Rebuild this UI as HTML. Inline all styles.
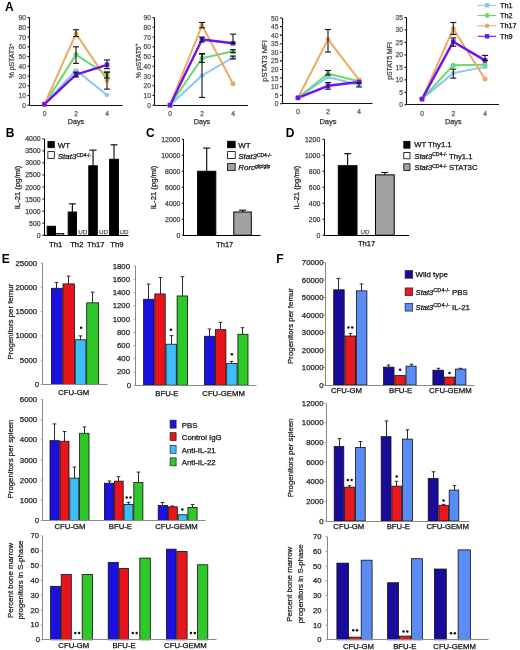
<!DOCTYPE html>
<html><head><meta charset="utf-8"><style>
html,body{margin:0;padding:0;background:#fff;}
body{width:520px;height:650px;overflow:hidden;font-family:"Liberation Sans",sans-serif;}
svg{display:block;will-change:transform;}
</style></head><body>
<svg width="520" height="650" viewBox="0 0 520 650" font-family='"Liberation Sans", sans-serif'>
<rect x="0" y="0" width="520" height="650" fill="#fff"/>
<text x="9.3" y="6.5" font-size="12" text-anchor="middle" fill="#000" dominant-baseline="central" font-weight="bold">A</text>
<text x="10.1" y="133.2" font-size="12" text-anchor="middle" fill="#000" dominant-baseline="central" font-weight="bold">B</text>
<text x="150.3" y="133.2" font-size="12" text-anchor="middle" fill="#000" dominant-baseline="central" font-weight="bold">C</text>
<text x="290.2" y="133.2" font-size="12" text-anchor="middle" fill="#000" dominant-baseline="central" font-weight="bold">D</text>
<text x="5.8" y="258.5" font-size="12" text-anchor="middle" fill="#000" dominant-baseline="central" font-weight="bold">E</text>
<text x="280" y="258.5" font-size="12" text-anchor="middle" fill="#000" dominant-baseline="central" font-weight="bold">F</text>
<line x1="29.5" y1="17.6" x2="29.5" y2="105.2" stroke="#111" stroke-width="1.1"/>
<line x1="27.5" y1="105.2" x2="29.5" y2="105.2" stroke="#111" stroke-width="1.1"/>
<text x="25.9" y="105.2" font-size="6.6" text-anchor="end" fill="#555" dominant-baseline="central" stroke="#555" stroke-width="0.25">0</text>
<line x1="27.5" y1="95.47" x2="29.5" y2="95.47" stroke="#111" stroke-width="1.1"/>
<text x="25.9" y="95.47" font-size="6.6" text-anchor="end" fill="#555" dominant-baseline="central" stroke="#555" stroke-width="0.25">10</text>
<line x1="27.5" y1="85.73" x2="29.5" y2="85.73" stroke="#111" stroke-width="1.1"/>
<text x="25.9" y="85.73" font-size="6.6" text-anchor="end" fill="#555" dominant-baseline="central" stroke="#555" stroke-width="0.25">20</text>
<line x1="27.5" y1="76" x2="29.5" y2="76" stroke="#111" stroke-width="1.1"/>
<text x="25.9" y="76" font-size="6.6" text-anchor="end" fill="#555" dominant-baseline="central" stroke="#555" stroke-width="0.25">30</text>
<line x1="27.5" y1="66.27" x2="29.5" y2="66.27" stroke="#111" stroke-width="1.1"/>
<text x="25.9" y="66.27" font-size="6.6" text-anchor="end" fill="#555" dominant-baseline="central" stroke="#555" stroke-width="0.25">40</text>
<line x1="27.5" y1="56.53" x2="29.5" y2="56.53" stroke="#111" stroke-width="1.1"/>
<text x="25.9" y="56.53" font-size="6.6" text-anchor="end" fill="#555" dominant-baseline="central" stroke="#555" stroke-width="0.25">50</text>
<line x1="27.5" y1="46.8" x2="29.5" y2="46.8" stroke="#111" stroke-width="1.1"/>
<text x="25.9" y="46.8" font-size="6.6" text-anchor="end" fill="#555" dominant-baseline="central" stroke="#555" stroke-width="0.25">60</text>
<line x1="27.5" y1="37.07" x2="29.5" y2="37.07" stroke="#111" stroke-width="1.1"/>
<text x="25.9" y="37.07" font-size="6.6" text-anchor="end" fill="#555" dominant-baseline="central" stroke="#555" stroke-width="0.25">70</text>
<line x1="27.5" y1="27.33" x2="29.5" y2="27.33" stroke="#111" stroke-width="1.1"/>
<text x="25.9" y="27.33" font-size="6.6" text-anchor="end" fill="#555" dominant-baseline="central" stroke="#555" stroke-width="0.25">80</text>
<line x1="27.5" y1="17.6" x2="29.5" y2="17.6" stroke="#111" stroke-width="1.1"/>
<text x="25.9" y="17.6" font-size="6.6" text-anchor="end" fill="#555" dominant-baseline="central" stroke="#555" stroke-width="0.25">90</text>
<line x1="29.5" y1="105.5" x2="122.5" y2="105.5" stroke="#111" stroke-width="1.1"/>
<text x="44.5" y="113.4" font-size="6.6" text-anchor="middle" fill="#555" dominant-baseline="central" stroke="#555" stroke-width="0.25">0</text>
<text x="76" y="113.4" font-size="6.6" text-anchor="middle" fill="#555" dominant-baseline="central" stroke="#555" stroke-width="0.25">2</text>
<text x="107" y="113.4" font-size="6.6" text-anchor="middle" fill="#555" dominant-baseline="central" stroke="#555" stroke-width="0.25">4</text>
<text x="76" y="121.4" font-size="7.2" text-anchor="middle" fill="#333" dominant-baseline="central" stroke="#333" stroke-width="0.25">Days</text>
<text x="11.6" y="61" font-size="6.84" text-anchor="middle" fill="#444" dominant-baseline="central" stroke="#444" stroke-width="0.25" transform="rotate(-90 11.6 61)">% pSTAT3<tspan dy="-2" font-size="4.5">+</tspan></text>
<polyline points="44.5,104.23 76,70.16 107,94.98" fill="none" stroke="#8cc4f2" stroke-width="2" stroke-linejoin="round"/>
<polyline points="44.5,104.23 76,54.59 107,75.03" fill="none" stroke="#66dc70" stroke-width="2" stroke-linejoin="round"/>
<polyline points="44.5,104.23 76,33.66 107,79.89" fill="none" stroke="#eeaa60" stroke-width="2" stroke-linejoin="round"/>
<polyline points="44.5,104.23 76,74.54 107,64.81" fill="none" stroke="#6e14ea" stroke-width="2.4" stroke-linejoin="round"/>
<ellipse cx="44.5" cy="104.23" rx="2.7" ry="2" fill="#8cc4f2"/>
<ellipse cx="76" cy="70.16" rx="2.7" ry="2" fill="#8cc4f2"/>
<ellipse cx="107" cy="94.98" rx="2.7" ry="2" fill="#8cc4f2"/>
<circle cx="44.5" cy="104.23" r="2.5" fill="#66dc70"/>
<circle cx="76" cy="54.59" r="2.5" fill="#66dc70"/>
<circle cx="107" cy="75.03" r="2.5" fill="#66dc70"/>
<circle cx="44.5" cy="104.23" r="2.5" fill="#eeaa60"/>
<circle cx="76" cy="33.66" r="2.5" fill="#eeaa60"/>
<circle cx="107" cy="79.89" r="2.5" fill="#eeaa60"/>
<rect x="42.2" y="101.93" width="4.6" height="4.6" fill="#6e14ea" stroke="none" stroke-width="1"/>
<rect x="73.7" y="72.24" width="4.6" height="4.6" fill="#6e14ea" stroke="none" stroke-width="1"/>
<rect x="104.7" y="62.51" width="4.6" height="4.6" fill="#6e14ea" stroke="none" stroke-width="1"/>
<line x1="76" y1="63.35" x2="76" y2="46.8" stroke="#111" stroke-width="1.1"/>
<line x1="73" y1="46.8" x2="79" y2="46.8" stroke="#111" stroke-width="1.1"/>
<line x1="73" y1="63.35" x2="79" y2="63.35" stroke="#111" stroke-width="1.1"/>
<line x1="107" y1="77.95" x2="107" y2="72.11" stroke="#111" stroke-width="1.1"/>
<line x1="104" y1="72.11" x2="110" y2="72.11" stroke="#111" stroke-width="1.1"/>
<line x1="104" y1="77.95" x2="110" y2="77.95" stroke="#111" stroke-width="1.1"/>
<line x1="76" y1="36.58" x2="76" y2="29.77" stroke="#111" stroke-width="1.1"/>
<line x1="73" y1="29.77" x2="79" y2="29.77" stroke="#111" stroke-width="1.1"/>
<line x1="73" y1="36.58" x2="79" y2="36.58" stroke="#111" stroke-width="1.1"/>
<line x1="107" y1="89.14" x2="107" y2="72.11" stroke="#111" stroke-width="1.1"/>
<line x1="104" y1="72.11" x2="110" y2="72.11" stroke="#111" stroke-width="1.1"/>
<line x1="104" y1="89.14" x2="110" y2="89.14" stroke="#111" stroke-width="1.1"/>
<line x1="76" y1="76.97" x2="76" y2="72.11" stroke="#111" stroke-width="1.1"/>
<line x1="73" y1="72.11" x2="79" y2="72.11" stroke="#111" stroke-width="1.1"/>
<line x1="73" y1="76.97" x2="79" y2="76.97" stroke="#111" stroke-width="1.1"/>
<line x1="107" y1="68.7" x2="107" y2="59.94" stroke="#111" stroke-width="1.1"/>
<line x1="104" y1="59.94" x2="110" y2="59.94" stroke="#111" stroke-width="1.1"/>
<line x1="104" y1="68.7" x2="110" y2="68.7" stroke="#111" stroke-width="1.1"/>
<line x1="154.5" y1="17.6" x2="154.5" y2="105.2" stroke="#111" stroke-width="1.1"/>
<line x1="152.5" y1="105.2" x2="154.5" y2="105.2" stroke="#111" stroke-width="1.1"/>
<text x="150.9" y="105.2" font-size="6.6" text-anchor="end" fill="#555" dominant-baseline="central" stroke="#555" stroke-width="0.25">0</text>
<line x1="152.5" y1="95.47" x2="154.5" y2="95.47" stroke="#111" stroke-width="1.1"/>
<text x="150.9" y="95.47" font-size="6.6" text-anchor="end" fill="#555" dominant-baseline="central" stroke="#555" stroke-width="0.25">10</text>
<line x1="152.5" y1="85.73" x2="154.5" y2="85.73" stroke="#111" stroke-width="1.1"/>
<text x="150.9" y="85.73" font-size="6.6" text-anchor="end" fill="#555" dominant-baseline="central" stroke="#555" stroke-width="0.25">20</text>
<line x1="152.5" y1="76" x2="154.5" y2="76" stroke="#111" stroke-width="1.1"/>
<text x="150.9" y="76" font-size="6.6" text-anchor="end" fill="#555" dominant-baseline="central" stroke="#555" stroke-width="0.25">30</text>
<line x1="152.5" y1="66.27" x2="154.5" y2="66.27" stroke="#111" stroke-width="1.1"/>
<text x="150.9" y="66.27" font-size="6.6" text-anchor="end" fill="#555" dominant-baseline="central" stroke="#555" stroke-width="0.25">40</text>
<line x1="152.5" y1="56.53" x2="154.5" y2="56.53" stroke="#111" stroke-width="1.1"/>
<text x="150.9" y="56.53" font-size="6.6" text-anchor="end" fill="#555" dominant-baseline="central" stroke="#555" stroke-width="0.25">50</text>
<line x1="152.5" y1="46.8" x2="154.5" y2="46.8" stroke="#111" stroke-width="1.1"/>
<text x="150.9" y="46.8" font-size="6.6" text-anchor="end" fill="#555" dominant-baseline="central" stroke="#555" stroke-width="0.25">60</text>
<line x1="152.5" y1="37.07" x2="154.5" y2="37.07" stroke="#111" stroke-width="1.1"/>
<text x="150.9" y="37.07" font-size="6.6" text-anchor="end" fill="#555" dominant-baseline="central" stroke="#555" stroke-width="0.25">70</text>
<line x1="152.5" y1="27.33" x2="154.5" y2="27.33" stroke="#111" stroke-width="1.1"/>
<text x="150.9" y="27.33" font-size="6.6" text-anchor="end" fill="#555" dominant-baseline="central" stroke="#555" stroke-width="0.25">80</text>
<line x1="152.5" y1="17.6" x2="154.5" y2="17.6" stroke="#111" stroke-width="1.1"/>
<text x="150.9" y="17.6" font-size="6.6" text-anchor="end" fill="#555" dominant-baseline="central" stroke="#555" stroke-width="0.25">90</text>
<line x1="154.5" y1="105.5" x2="248" y2="105.5" stroke="#111" stroke-width="1.1"/>
<text x="170" y="113.4" font-size="6.6" text-anchor="middle" fill="#555" dominant-baseline="central" stroke="#555" stroke-width="0.25">0</text>
<text x="202" y="113.4" font-size="6.6" text-anchor="middle" fill="#555" dominant-baseline="central" stroke="#555" stroke-width="0.25">2</text>
<text x="233" y="113.4" font-size="6.6" text-anchor="middle" fill="#555" dominant-baseline="central" stroke="#555" stroke-width="0.25">4</text>
<text x="202" y="121.4" font-size="7.2" text-anchor="middle" fill="#333" dominant-baseline="central" stroke="#333" stroke-width="0.25">Days</text>
<text x="138" y="61" font-size="6.84" text-anchor="middle" fill="#444" dominant-baseline="central" stroke="#444" stroke-width="0.25" transform="rotate(-90 138 61)">% pSTAT5<tspan dy="-2" font-size="4.5">+</tspan></text>
<polyline points="170,105.2 202,75.51 233,57.51" fill="none" stroke="#8cc4f2" stroke-width="2" stroke-linejoin="round"/>
<polyline points="170,105.2 202,58.19 233,51.18" fill="none" stroke="#66dc70" stroke-width="2" stroke-linejoin="round"/>
<polyline points="170,105.2 202,25.39 233,83.79" fill="none" stroke="#eeaa60" stroke-width="2" stroke-linejoin="round"/>
<polyline points="170,105.2 202,39.5 233,43.3" fill="none" stroke="#6e14ea" stroke-width="2.4" stroke-linejoin="round"/>
<ellipse cx="170" cy="105.2" rx="2.7" ry="2" fill="#8cc4f2"/>
<ellipse cx="202" cy="75.51" rx="2.7" ry="2" fill="#8cc4f2"/>
<ellipse cx="233" cy="57.51" rx="2.7" ry="2" fill="#8cc4f2"/>
<circle cx="170" cy="105.2" r="2.5" fill="#66dc70"/>
<circle cx="202" cy="58.19" r="2.5" fill="#66dc70"/>
<circle cx="233" cy="51.18" r="2.5" fill="#66dc70"/>
<circle cx="170" cy="105.2" r="2.5" fill="#eeaa60"/>
<circle cx="202" cy="25.39" r="2.5" fill="#eeaa60"/>
<circle cx="233" cy="83.79" r="2.5" fill="#eeaa60"/>
<rect x="167.7" y="102.9" width="4.6" height="4.6" fill="#6e14ea" stroke="none" stroke-width="1"/>
<rect x="199.7" y="37.2" width="4.6" height="4.6" fill="#6e14ea" stroke="none" stroke-width="1"/>
<rect x="230.7" y="41" width="4.6" height="4.6" fill="#6e14ea" stroke="none" stroke-width="1"/>
<line x1="202" y1="97.41" x2="202" y2="54.1" stroke="#111" stroke-width="1.1"/>
<line x1="199" y1="54.1" x2="205" y2="54.1" stroke="#111" stroke-width="1.1"/>
<line x1="199" y1="97.41" x2="205" y2="97.41" stroke="#111" stroke-width="1.1"/>
<line x1="233" y1="58.97" x2="233" y2="56.05" stroke="#111" stroke-width="1.1"/>
<line x1="230" y1="56.05" x2="236" y2="56.05" stroke="#111" stroke-width="1.1"/>
<line x1="230" y1="58.97" x2="236" y2="58.97" stroke="#111" stroke-width="1.1"/>
<line x1="202" y1="62.37" x2="202" y2="53.61" stroke="#111" stroke-width="1.1"/>
<line x1="199" y1="53.61" x2="205" y2="53.61" stroke="#111" stroke-width="1.1"/>
<line x1="199" y1="62.37" x2="205" y2="62.37" stroke="#111" stroke-width="1.1"/>
<line x1="233" y1="52.64" x2="233" y2="49.72" stroke="#111" stroke-width="1.1"/>
<line x1="230" y1="49.72" x2="236" y2="49.72" stroke="#111" stroke-width="1.1"/>
<line x1="230" y1="52.64" x2="236" y2="52.64" stroke="#111" stroke-width="1.1"/>
<line x1="202" y1="27.82" x2="202" y2="22.47" stroke="#111" stroke-width="1.1"/>
<line x1="199" y1="22.47" x2="205" y2="22.47" stroke="#111" stroke-width="1.1"/>
<line x1="199" y1="27.82" x2="205" y2="27.82" stroke="#111" stroke-width="1.1"/>
<line x1="202" y1="41.93" x2="202" y2="37.07" stroke="#111" stroke-width="1.1"/>
<line x1="199" y1="37.07" x2="205" y2="37.07" stroke="#111" stroke-width="1.1"/>
<line x1="199" y1="41.93" x2="205" y2="41.93" stroke="#111" stroke-width="1.1"/>
<line x1="233" y1="43.3" x2="233" y2="34.15" stroke="#111" stroke-width="1.1"/>
<line x1="230" y1="34.15" x2="236" y2="34.15" stroke="#111" stroke-width="1.1"/>
<line x1="230" y1="43.3" x2="236" y2="43.3" stroke="#111" stroke-width="1.1"/>
<line x1="282.5" y1="18" x2="282.5" y2="103.8" stroke="#111" stroke-width="1.1"/>
<line x1="280" y1="103.8" x2="282" y2="103.8" stroke="#111" stroke-width="1.1"/>
<text x="278.4" y="103.8" font-size="6.6" text-anchor="end" fill="#555" dominant-baseline="central" stroke="#555" stroke-width="0.25">0</text>
<line x1="280" y1="95.22" x2="282" y2="95.22" stroke="#111" stroke-width="1.1"/>
<text x="278.4" y="95.22" font-size="6.6" text-anchor="end" fill="#555" dominant-baseline="central" stroke="#555" stroke-width="0.25">5</text>
<line x1="280" y1="86.64" x2="282" y2="86.64" stroke="#111" stroke-width="1.1"/>
<text x="278.4" y="86.64" font-size="6.6" text-anchor="end" fill="#555" dominant-baseline="central" stroke="#555" stroke-width="0.25">10</text>
<line x1="280" y1="78.06" x2="282" y2="78.06" stroke="#111" stroke-width="1.1"/>
<text x="278.4" y="78.06" font-size="6.6" text-anchor="end" fill="#555" dominant-baseline="central" stroke="#555" stroke-width="0.25">15</text>
<line x1="280" y1="69.48" x2="282" y2="69.48" stroke="#111" stroke-width="1.1"/>
<text x="278.4" y="69.48" font-size="6.6" text-anchor="end" fill="#555" dominant-baseline="central" stroke="#555" stroke-width="0.25">20</text>
<line x1="280" y1="60.9" x2="282" y2="60.9" stroke="#111" stroke-width="1.1"/>
<text x="278.4" y="60.9" font-size="6.6" text-anchor="end" fill="#555" dominant-baseline="central" stroke="#555" stroke-width="0.25">25</text>
<line x1="280" y1="52.32" x2="282" y2="52.32" stroke="#111" stroke-width="1.1"/>
<text x="278.4" y="52.32" font-size="6.6" text-anchor="end" fill="#555" dominant-baseline="central" stroke="#555" stroke-width="0.25">30</text>
<line x1="280" y1="43.74" x2="282" y2="43.74" stroke="#111" stroke-width="1.1"/>
<text x="278.4" y="43.74" font-size="6.6" text-anchor="end" fill="#555" dominant-baseline="central" stroke="#555" stroke-width="0.25">35</text>
<line x1="280" y1="35.16" x2="282" y2="35.16" stroke="#111" stroke-width="1.1"/>
<text x="278.4" y="35.16" font-size="6.6" text-anchor="end" fill="#555" dominant-baseline="central" stroke="#555" stroke-width="0.25">40</text>
<line x1="280" y1="26.58" x2="282" y2="26.58" stroke="#111" stroke-width="1.1"/>
<text x="278.4" y="26.58" font-size="6.6" text-anchor="end" fill="#555" dominant-baseline="central" stroke="#555" stroke-width="0.25">45</text>
<line x1="280" y1="18" x2="282" y2="18" stroke="#111" stroke-width="1.1"/>
<text x="278.4" y="18" font-size="6.6" text-anchor="end" fill="#555" dominant-baseline="central" stroke="#555" stroke-width="0.25">50</text>
<line x1="282" y1="103.5" x2="372.5" y2="103.5" stroke="#111" stroke-width="1.1"/>
<text x="298" y="112" font-size="7.13" text-anchor="middle" fill="#555" dominant-baseline="central" stroke="#555" stroke-width="0.25">0</text>
<text x="328" y="112" font-size="7.13" text-anchor="middle" fill="#555" dominant-baseline="central" stroke="#555" stroke-width="0.25">2</text>
<text x="359" y="112" font-size="7.13" text-anchor="middle" fill="#555" dominant-baseline="central" stroke="#555" stroke-width="0.25">4</text>
<text x="328" y="121.2" font-size="7.56" text-anchor="middle" fill="#333" dominant-baseline="central" stroke="#333" stroke-width="0.25">Days</text>
<text x="264" y="61" font-size="7.52" text-anchor="middle" fill="#444" dominant-baseline="central" stroke="#444" stroke-width="0.25" transform="rotate(-90 264 61)">pSTAT3 MFI</text>
<polyline points="298,97.79 328,77.03 359,84.92" fill="none" stroke="#8cc4f2" stroke-width="2" stroke-linejoin="round"/>
<polyline points="298,97.79 328,73.77 359,81.32" fill="none" stroke="#66dc70" stroke-width="2" stroke-linejoin="round"/>
<polyline points="298,97.79 328,39.45 359,79.95" fill="none" stroke="#eeaa60" stroke-width="2" stroke-linejoin="round"/>
<polyline points="298,97.79 328,85.78 359,82.01" fill="none" stroke="#6e14ea" stroke-width="2.4" stroke-linejoin="round"/>
<ellipse cx="298" cy="97.79" rx="2.7" ry="2" fill="#8cc4f2"/>
<ellipse cx="328" cy="77.03" rx="2.7" ry="2" fill="#8cc4f2"/>
<ellipse cx="359" cy="84.92" rx="2.7" ry="2" fill="#8cc4f2"/>
<circle cx="298" cy="97.79" r="2.5" fill="#66dc70"/>
<circle cx="328" cy="73.77" r="2.5" fill="#66dc70"/>
<circle cx="359" cy="81.32" r="2.5" fill="#66dc70"/>
<circle cx="298" cy="97.79" r="2.5" fill="#eeaa60"/>
<circle cx="328" cy="39.45" r="2.5" fill="#eeaa60"/>
<circle cx="359" cy="79.95" r="2.5" fill="#eeaa60"/>
<rect x="295.7" y="95.49" width="4.6" height="4.6" fill="#6e14ea" stroke="none" stroke-width="1"/>
<rect x="325.7" y="83.48" width="4.6" height="4.6" fill="#6e14ea" stroke="none" stroke-width="1"/>
<rect x="356.7" y="79.71" width="4.6" height="4.6" fill="#6e14ea" stroke="none" stroke-width="1"/>
<line x1="359" y1="86.98" x2="359" y2="82.86" stroke="#111" stroke-width="1.1"/>
<line x1="356" y1="82.86" x2="362" y2="82.86" stroke="#111" stroke-width="1.1"/>
<line x1="356" y1="86.98" x2="362" y2="86.98" stroke="#111" stroke-width="1.1"/>
<line x1="328" y1="74.97" x2="328" y2="70.51" stroke="#111" stroke-width="1.1"/>
<line x1="325" y1="70.51" x2="331" y2="70.51" stroke="#111" stroke-width="1.1"/>
<line x1="325" y1="74.97" x2="331" y2="74.97" stroke="#111" stroke-width="1.1"/>
<line x1="328" y1="51.98" x2="328" y2="29.5" stroke="#111" stroke-width="1.1"/>
<line x1="325" y1="29.5" x2="331" y2="29.5" stroke="#111" stroke-width="1.1"/>
<line x1="325" y1="51.98" x2="331" y2="51.98" stroke="#111" stroke-width="1.1"/>
<line x1="328" y1="89.21" x2="328" y2="82.52" stroke="#111" stroke-width="1.1"/>
<line x1="325" y1="82.52" x2="331" y2="82.52" stroke="#111" stroke-width="1.1"/>
<line x1="325" y1="89.21" x2="331" y2="89.21" stroke="#111" stroke-width="1.1"/>
<line x1="406.5" y1="17.5" x2="406.5" y2="104.8" stroke="#111" stroke-width="1.1"/>
<line x1="404.5" y1="104.8" x2="406.5" y2="104.8" stroke="#111" stroke-width="1.1"/>
<text x="402.9" y="104.8" font-size="6.6" text-anchor="end" fill="#555" dominant-baseline="central" stroke="#555" stroke-width="0.25">0</text>
<line x1="404.5" y1="92.33" x2="406.5" y2="92.33" stroke="#111" stroke-width="1.1"/>
<text x="402.9" y="92.33" font-size="6.6" text-anchor="end" fill="#555" dominant-baseline="central" stroke="#555" stroke-width="0.25">5</text>
<line x1="404.5" y1="79.86" x2="406.5" y2="79.86" stroke="#111" stroke-width="1.1"/>
<text x="402.9" y="79.86" font-size="6.6" text-anchor="end" fill="#555" dominant-baseline="central" stroke="#555" stroke-width="0.25">10</text>
<line x1="404.5" y1="67.39" x2="406.5" y2="67.39" stroke="#111" stroke-width="1.1"/>
<text x="402.9" y="67.39" font-size="6.6" text-anchor="end" fill="#555" dominant-baseline="central" stroke="#555" stroke-width="0.25">15</text>
<line x1="404.5" y1="54.91" x2="406.5" y2="54.91" stroke="#111" stroke-width="1.1"/>
<text x="402.9" y="54.91" font-size="6.6" text-anchor="end" fill="#555" dominant-baseline="central" stroke="#555" stroke-width="0.25">20</text>
<line x1="404.5" y1="42.44" x2="406.5" y2="42.44" stroke="#111" stroke-width="1.1"/>
<text x="402.9" y="42.44" font-size="6.6" text-anchor="end" fill="#555" dominant-baseline="central" stroke="#555" stroke-width="0.25">25</text>
<line x1="404.5" y1="29.97" x2="406.5" y2="29.97" stroke="#111" stroke-width="1.1"/>
<text x="402.9" y="29.97" font-size="6.6" text-anchor="end" fill="#555" dominant-baseline="central" stroke="#555" stroke-width="0.25">30</text>
<line x1="404.5" y1="17.5" x2="406.5" y2="17.5" stroke="#111" stroke-width="1.1"/>
<text x="402.9" y="17.5" font-size="6.6" text-anchor="end" fill="#555" dominant-baseline="central" stroke="#555" stroke-width="0.25">35</text>
<line x1="406.5" y1="104.5" x2="499" y2="104.5" stroke="#111" stroke-width="1.1"/>
<text x="422" y="113" font-size="6.6" text-anchor="middle" fill="#555" dominant-baseline="central" stroke="#555" stroke-width="0.25">0</text>
<text x="453.3" y="113" font-size="6.6" text-anchor="middle" fill="#555" dominant-baseline="central" stroke="#555" stroke-width="0.25">2</text>
<text x="485" y="113" font-size="6.6" text-anchor="middle" fill="#555" dominant-baseline="central" stroke="#555" stroke-width="0.25">4</text>
<text x="453.3" y="121" font-size="7.2" text-anchor="middle" fill="#333" dominant-baseline="central" stroke="#333" stroke-width="0.25">Days</text>
<text x="389.6" y="61" font-size="6.84" text-anchor="middle" fill="#444" dominant-baseline="central" stroke="#444" stroke-width="0.25" transform="rotate(-90 389.6 61)">pSTAT5 MFI</text>
<polyline points="422,99.06 453.3,73.12 485,66.89" fill="none" stroke="#8cc4f2" stroke-width="2" stroke-linejoin="round"/>
<polyline points="422,99.06 453.3,65.14 485,64.64" fill="none" stroke="#66dc70" stroke-width="2" stroke-linejoin="round"/>
<polyline points="422,99.06 453.3,28.72 485,79.11" fill="none" stroke="#eeaa60" stroke-width="2" stroke-linejoin="round"/>
<polyline points="422,99.06 453.3,41.69 485,60.4" fill="none" stroke="#6e14ea" stroke-width="2.4" stroke-linejoin="round"/>
<ellipse cx="422" cy="99.06" rx="2.7" ry="2" fill="#8cc4f2"/>
<ellipse cx="453.3" cy="73.12" rx="2.7" ry="2" fill="#8cc4f2"/>
<ellipse cx="485" cy="66.89" rx="2.7" ry="2" fill="#8cc4f2"/>
<circle cx="422" cy="99.06" r="2.5" fill="#66dc70"/>
<circle cx="453.3" cy="65.14" r="2.5" fill="#66dc70"/>
<circle cx="485" cy="64.64" r="2.5" fill="#66dc70"/>
<circle cx="422" cy="99.06" r="2.5" fill="#eeaa60"/>
<circle cx="453.3" cy="28.72" r="2.5" fill="#eeaa60"/>
<circle cx="485" cy="79.11" r="2.5" fill="#eeaa60"/>
<rect x="419.7" y="96.76" width="4.6" height="4.6" fill="#6e14ea" stroke="none" stroke-width="1"/>
<rect x="451" y="39.39" width="4.6" height="4.6" fill="#6e14ea" stroke="none" stroke-width="1"/>
<rect x="482.7" y="58.1" width="4.6" height="4.6" fill="#6e14ea" stroke="none" stroke-width="1"/>
<line x1="453.3" y1="78.11" x2="453.3" y2="69.13" stroke="#111" stroke-width="1.1"/>
<line x1="450.3" y1="69.13" x2="456.3" y2="69.13" stroke="#111" stroke-width="1.1"/>
<line x1="450.3" y1="78.11" x2="456.3" y2="78.11" stroke="#111" stroke-width="1.1"/>
<line x1="453.3" y1="34.46" x2="453.3" y2="22.49" stroke="#111" stroke-width="1.1"/>
<line x1="450.3" y1="22.49" x2="456.3" y2="22.49" stroke="#111" stroke-width="1.1"/>
<line x1="450.3" y1="34.46" x2="456.3" y2="34.46" stroke="#111" stroke-width="1.1"/>
<line x1="453.3" y1="46.18" x2="453.3" y2="37.95" stroke="#111" stroke-width="1.1"/>
<line x1="450.3" y1="37.95" x2="456.3" y2="37.95" stroke="#111" stroke-width="1.1"/>
<line x1="450.3" y1="46.18" x2="456.3" y2="46.18" stroke="#111" stroke-width="1.1"/>
<line x1="485" y1="60.4" x2="485" y2="55.41" stroke="#111" stroke-width="1.1"/>
<line x1="482" y1="55.41" x2="488" y2="55.41" stroke="#111" stroke-width="1.1"/>
<line x1="482" y1="60.4" x2="488" y2="60.4" stroke="#111" stroke-width="1.1"/>
<line x1="477.7" y1="5.3" x2="496" y2="5.3" stroke="#8cc4f2" stroke-width="1.1"/>
<rect x="484.9" y="3.1" width="4.4" height="4.4" fill="#8cc4f2" stroke="none" stroke-width="1"/>
<text x="500" y="5.3" font-size="7.3" text-anchor="start" fill="#111" dominant-baseline="central" stroke="#111" stroke-width="0.25">Th1</text>
<line x1="477.7" y1="15.5" x2="496" y2="15.5" stroke="#66dc70" stroke-width="1.1"/>
<circle cx="487.1" cy="15.5" r="2.4" fill="#66dc70"/>
<text x="500" y="15.5" font-size="7.3" text-anchor="start" fill="#111" dominant-baseline="central" stroke="#111" stroke-width="0.25">Th2</text>
<line x1="477.7" y1="25.8" x2="496" y2="25.8" stroke="#eeaa60" stroke-width="1.1"/>
<circle cx="487.1" cy="25.8" r="2.4" fill="#eeaa60"/>
<text x="500" y="25.8" font-size="7.3" text-anchor="start" fill="#111" dominant-baseline="central" stroke="#111" stroke-width="0.25">Th17</text>
<line x1="477.7" y1="36.3" x2="496" y2="36.3" stroke="#6e14ea" stroke-width="1.1"/>
<rect x="484.9" y="34.1" width="4.4" height="4.4" fill="#6e14ea" stroke="none" stroke-width="1"/>
<text x="500" y="36.3" font-size="7.3" text-anchor="start" fill="#111" dominant-baseline="central" stroke="#111" stroke-width="0.25">Th9</text>
<line x1="44.5" y1="138.8" x2="44.5" y2="235.2" stroke="#000" stroke-width="1"/>
<line x1="42.4" y1="235.2" x2="44.2" y2="235.2" stroke="#000" stroke-width="1"/>
<text x="40.6" y="235.2" font-size="6.9" text-anchor="end" fill="#444" dominant-baseline="central" stroke="#444" stroke-width="0.25">0</text>
<line x1="42.4" y1="223.15" x2="44.2" y2="223.15" stroke="#000" stroke-width="1"/>
<text x="40.6" y="223.15" font-size="6.9" text-anchor="end" fill="#444" dominant-baseline="central" stroke="#444" stroke-width="0.25">500</text>
<line x1="42.4" y1="211.1" x2="44.2" y2="211.1" stroke="#000" stroke-width="1"/>
<text x="40.6" y="211.1" font-size="6.9" text-anchor="end" fill="#444" dominant-baseline="central" stroke="#444" stroke-width="0.25">1000</text>
<line x1="42.4" y1="199.05" x2="44.2" y2="199.05" stroke="#000" stroke-width="1"/>
<text x="40.6" y="199.05" font-size="6.9" text-anchor="end" fill="#444" dominant-baseline="central" stroke="#444" stroke-width="0.25">1500</text>
<line x1="42.4" y1="187" x2="44.2" y2="187" stroke="#000" stroke-width="1"/>
<text x="40.6" y="187" font-size="6.9" text-anchor="end" fill="#444" dominant-baseline="central" stroke="#444" stroke-width="0.25">2000</text>
<line x1="42.4" y1="174.95" x2="44.2" y2="174.95" stroke="#000" stroke-width="1"/>
<text x="40.6" y="174.95" font-size="6.9" text-anchor="end" fill="#444" dominant-baseline="central" stroke="#444" stroke-width="0.25">2500</text>
<line x1="42.4" y1="162.9" x2="44.2" y2="162.9" stroke="#000" stroke-width="1"/>
<text x="40.6" y="162.9" font-size="6.9" text-anchor="end" fill="#444" dominant-baseline="central" stroke="#444" stroke-width="0.25">3000</text>
<line x1="42.4" y1="150.85" x2="44.2" y2="150.85" stroke="#000" stroke-width="1"/>
<text x="40.6" y="150.85" font-size="6.9" text-anchor="end" fill="#444" dominant-baseline="central" stroke="#444" stroke-width="0.25">3500</text>
<line x1="42.4" y1="138.8" x2="44.2" y2="138.8" stroke="#000" stroke-width="1"/>
<text x="40.6" y="138.8" font-size="6.9" text-anchor="end" fill="#444" dominant-baseline="central" stroke="#444" stroke-width="0.25">4000</text>
<rect x="47.2" y="226.28" width="8.3" height="8.92" fill="#000" stroke="#000" stroke-width="1"/>
<rect x="55.5" y="233.63" width="8.3" height="1.57" fill="#fff" stroke="#000" stroke-width="1"/>
<line x1="72.35" y1="212.06" x2="72.35" y2="203.87" stroke="#000" stroke-width="1.1"/>
<line x1="68.85" y1="203.87" x2="75.85" y2="203.87" stroke="#000" stroke-width="1.1"/>
<rect x="68.2" y="212.06" width="8.3" height="23.14" fill="#000" stroke="#000" stroke-width="1"/>
<line x1="93.05" y1="165.79" x2="93.05" y2="150.13" stroke="#000" stroke-width="1.1"/>
<line x1="89.55" y1="150.13" x2="96.55" y2="150.13" stroke="#000" stroke-width="1.1"/>
<rect x="88.8" y="165.79" width="8.5" height="69.41" fill="#000" stroke="#000" stroke-width="1"/>
<line x1="114" y1="159.29" x2="114" y2="144.83" stroke="#000" stroke-width="1.1"/>
<line x1="110.5" y1="144.83" x2="117.5" y2="144.83" stroke="#000" stroke-width="1.1"/>
<rect x="109.6" y="159.29" width="8.8" height="75.91" fill="#000" stroke="#000" stroke-width="1"/>
<line x1="44.2" y1="235.5" x2="128.5" y2="235.5" stroke="#000" stroke-width="1.1"/>
<text x="82.7" y="231.8" font-size="6.2" text-anchor="middle" fill="#555" dominant-baseline="central" stroke="#555" stroke-width="0.25">UD</text>
<text x="103.4" y="231.8" font-size="6.2" text-anchor="middle" fill="#555" dominant-baseline="central" stroke="#555" stroke-width="0.25">UD</text>
<text x="123.9" y="231.8" font-size="6.2" text-anchor="middle" fill="#555" dominant-baseline="central" stroke="#555" stroke-width="0.25">UD</text>
<text x="55.6" y="244.2" font-size="7.7" text-anchor="middle" fill="#111" dominant-baseline="central" stroke="#111" stroke-width="0.25">Th1</text>
<text x="76.8" y="244.2" font-size="7.7" text-anchor="middle" fill="#111" dominant-baseline="central" stroke="#111" stroke-width="0.25">Th2</text>
<text x="95.8" y="244.2" font-size="7.7" text-anchor="middle" fill="#111" dominant-baseline="central" stroke="#111" stroke-width="0.25">Th17</text>
<text x="116.9" y="244.2" font-size="7.7" text-anchor="middle" fill="#111" dominant-baseline="central" stroke="#111" stroke-width="0.25">Th9</text>
<text x="17.8" y="187.5" font-size="7.7" text-anchor="middle" fill="#222" dominant-baseline="central" stroke="#222" stroke-width="0.25" transform="rotate(-90 17.8 187.5)">IL-21 (pg/ml)</text>
<rect x="47.9" y="141.5" width="6.4" height="6.2" fill="#000" stroke="#000" stroke-width="0.8"/>
<rect x="47.9" y="151.6" width="6.4" height="6.9" fill="#fff" stroke="#000" stroke-width="0.8"/>
<text x="57.7" y="145.3" font-size="8" text-anchor="start" fill="#111" dominant-baseline="central" stroke="#111" stroke-width="0.25">WT</text>
<text x="57.7" y="155.6" font-size="8" text-anchor="start" fill="#111" dominant-baseline="central" stroke="#111" stroke-width="0.25"><tspan font-style="italic">Stat3</tspan><tspan font-size="5" dy="-1">CD4-/-</tspan></text>
<line x1="183.5" y1="139.3" x2="183.5" y2="235.2" stroke="#000" stroke-width="1"/>
<line x1="182" y1="235.2" x2="183.8" y2="235.2" stroke="#000" stroke-width="1"/>
<text x="180.4" y="235.2" font-size="6.9" text-anchor="end" fill="#444" dominant-baseline="central" stroke="#444" stroke-width="0.25">0</text>
<line x1="182" y1="219.22" x2="183.8" y2="219.22" stroke="#000" stroke-width="1"/>
<text x="180.4" y="219.22" font-size="6.9" text-anchor="end" fill="#444" dominant-baseline="central" stroke="#444" stroke-width="0.25">2000</text>
<line x1="182" y1="203.23" x2="183.8" y2="203.23" stroke="#000" stroke-width="1"/>
<text x="180.4" y="203.23" font-size="6.9" text-anchor="end" fill="#444" dominant-baseline="central" stroke="#444" stroke-width="0.25">4000</text>
<line x1="182" y1="187.25" x2="183.8" y2="187.25" stroke="#000" stroke-width="1"/>
<text x="180.4" y="187.25" font-size="6.9" text-anchor="end" fill="#444" dominant-baseline="central" stroke="#444" stroke-width="0.25">6000</text>
<line x1="182" y1="171.27" x2="183.8" y2="171.27" stroke="#000" stroke-width="1"/>
<text x="180.4" y="171.27" font-size="6.9" text-anchor="end" fill="#444" dominant-baseline="central" stroke="#444" stroke-width="0.25">8000</text>
<line x1="182" y1="155.28" x2="183.8" y2="155.28" stroke="#000" stroke-width="1"/>
<text x="180.4" y="155.28" font-size="6.9" text-anchor="end" fill="#444" dominant-baseline="central" stroke="#444" stroke-width="0.25">10000</text>
<line x1="182" y1="139.3" x2="183.8" y2="139.3" stroke="#000" stroke-width="1"/>
<text x="180.4" y="139.3" font-size="6.9" text-anchor="end" fill="#444" dominant-baseline="central" stroke="#444" stroke-width="0.25">12000</text>
<line x1="206.7" y1="171.27" x2="206.7" y2="148.09" stroke="#000" stroke-width="1.1"/>
<line x1="203.2" y1="148.09" x2="210.2" y2="148.09" stroke="#000" stroke-width="1.1"/>
<rect x="197.6" y="171.27" width="18.2" height="63.93" fill="#000" stroke="#000" stroke-width="1"/>
<line x1="242.55" y1="212.02" x2="242.55" y2="210.19" stroke="#000" stroke-width="1.1"/>
<line x1="239.05" y1="210.19" x2="246.05" y2="210.19" stroke="#000" stroke-width="1.1"/>
<rect x="233.8" y="212.02" width="17.5" height="23.18" fill="#a2a2a2" stroke="#000" stroke-width="1"/>
<line x1="183.8" y1="235.5" x2="260.5" y2="235.5" stroke="#000" stroke-width="1.1"/>
<text x="224.7" y="244" font-size="7.6" text-anchor="middle" fill="#111" dominant-baseline="central" stroke="#111" stroke-width="0.25">Th17</text>
<text x="153.1" y="187.5" font-size="7.7" text-anchor="middle" fill="#222" dominant-baseline="central" stroke="#222" stroke-width="0.25" transform="rotate(-90 153.1 187.5)">IL-21 (pg/ml)</text>
<rect x="227.6" y="141.2" width="7.6" height="6.6" fill="#000" stroke="#000" stroke-width="0.8"/>
<rect x="227.6" y="151.6" width="7.6" height="7" fill="#fff" stroke="#000" stroke-width="0.8"/>
<rect x="227.6" y="163.6" width="7.6" height="7" fill="#a2a2a2" stroke="#000" stroke-width="0.8"/>
<text x="238.2" y="145" font-size="8" text-anchor="start" fill="#111" dominant-baseline="central" stroke="#111" stroke-width="0.25">WT</text>
<text x="238.2" y="155.6" font-size="8" text-anchor="start" fill="#111" dominant-baseline="central" stroke="#111" stroke-width="0.25"><tspan font-style="italic">Stat3</tspan><tspan font-size="5" dy="-1">CD4-/-</tspan></text>
<text x="238.2" y="167.4" font-size="8" text-anchor="start" fill="#111" dominant-baseline="central" stroke="#111" stroke-width="0.25"><tspan font-style="italic">Rorc</tspan><tspan font-size="5" dy="-1">gfp/gfp</tspan></text>
<line x1="324.5" y1="139.3" x2="324.5" y2="235.2" stroke="#000" stroke-width="1"/>
<line x1="322.5" y1="235.2" x2="324.3" y2="235.2" stroke="#000" stroke-width="1"/>
<text x="320.3" y="235.2" font-size="6.9" text-anchor="end" fill="#444" dominant-baseline="central" stroke="#444" stroke-width="0.25">0</text>
<line x1="322.5" y1="219.22" x2="324.3" y2="219.22" stroke="#000" stroke-width="1"/>
<text x="320.3" y="219.22" font-size="6.9" text-anchor="end" fill="#444" dominant-baseline="central" stroke="#444" stroke-width="0.25">200</text>
<line x1="322.5" y1="203.23" x2="324.3" y2="203.23" stroke="#000" stroke-width="1"/>
<text x="320.3" y="203.23" font-size="6.9" text-anchor="end" fill="#444" dominant-baseline="central" stroke="#444" stroke-width="0.25">400</text>
<line x1="322.5" y1="187.25" x2="324.3" y2="187.25" stroke="#000" stroke-width="1"/>
<text x="320.3" y="187.25" font-size="6.9" text-anchor="end" fill="#444" dominant-baseline="central" stroke="#444" stroke-width="0.25">600</text>
<line x1="322.5" y1="171.27" x2="324.3" y2="171.27" stroke="#000" stroke-width="1"/>
<text x="320.3" y="171.27" font-size="6.9" text-anchor="end" fill="#444" dominant-baseline="central" stroke="#444" stroke-width="0.25">800</text>
<line x1="322.5" y1="155.28" x2="324.3" y2="155.28" stroke="#000" stroke-width="1"/>
<text x="320.3" y="155.28" font-size="6.9" text-anchor="end" fill="#444" dominant-baseline="central" stroke="#444" stroke-width="0.25">1000</text>
<line x1="322.5" y1="139.3" x2="324.3" y2="139.3" stroke="#000" stroke-width="1"/>
<text x="320.3" y="139.3" font-size="6.9" text-anchor="end" fill="#444" dominant-baseline="central" stroke="#444" stroke-width="0.25">1200</text>
<line x1="347.65" y1="165.67" x2="347.65" y2="153.69" stroke="#000" stroke-width="1.1"/>
<line x1="344.15" y1="153.69" x2="351.15" y2="153.69" stroke="#000" stroke-width="1.1"/>
<rect x="338.3" y="165.67" width="18.7" height="69.53" fill="#000" stroke="#000" stroke-width="1"/>
<line x1="384.85" y1="174.86" x2="384.85" y2="172.47" stroke="#000" stroke-width="1.1"/>
<line x1="381.35" y1="172.47" x2="388.35" y2="172.47" stroke="#000" stroke-width="1.1"/>
<rect x="375.5" y="174.86" width="18.7" height="60.34" fill="#a2a2a2" stroke="#000" stroke-width="1"/>
<line x1="324.3" y1="235.5" x2="409" y2="235.5" stroke="#000" stroke-width="1.1"/>
<text x="365" y="231.7" font-size="6.2" text-anchor="middle" fill="#555" dominant-baseline="central" stroke="#555" stroke-width="0.25">UD</text>
<text x="366.6" y="243.9" font-size="7.6" text-anchor="middle" fill="#111" dominant-baseline="central" stroke="#111" stroke-width="0.25">Th17</text>
<text x="296.4" y="187.6" font-size="7.7" text-anchor="middle" fill="#222" dominant-baseline="central" stroke="#222" stroke-width="0.25" transform="rotate(-90 296.4 187.6)">IL-21 (pg/ml)</text>
<rect x="403.8" y="141.3" width="6.2" height="6.9" fill="#000" stroke="#000" stroke-width="0.8"/>
<rect x="403.8" y="152.4" width="6.2" height="6.4" fill="#fff" stroke="#000" stroke-width="0.8"/>
<rect x="403.8" y="163.8" width="6.2" height="6.7" fill="#a2a2a2" stroke="#000" stroke-width="0.8"/>
<text x="414.3" y="144.8" font-size="7.7" text-anchor="start" fill="#111" dominant-baseline="central" stroke="#111" stroke-width="0.25">WT Thy1.1</text>
<text x="414.3" y="155.6" font-size="7.7" text-anchor="start" fill="#111" dominant-baseline="central" stroke="#111" stroke-width="0.25"><tspan font-style="italic">Stat3</tspan><tspan font-size="5" dy="-1.2">CD4-/-</tspan><tspan dy="1.2"> Thy1.1</tspan></text>
<text x="414.3" y="167.2" font-size="7.7" text-anchor="start" fill="#111" dominant-baseline="central" stroke="#111" stroke-width="0.25"><tspan font-style="italic">Stat3</tspan><tspan font-size="5" dy="-1.2">CD4-/-</tspan><tspan dy="1.2"> STAT3C</tspan></text>
<line x1="42.5" y1="263" x2="42.5" y2="384.5" stroke="#8a8a8a" stroke-width="1"/>
<line x1="40.7" y1="384.5" x2="42.5" y2="384.5" stroke="#8a8a8a" stroke-width="0.8"/>
<text x="39" y="384.5" font-size="7.8" text-anchor="end" fill="#222" dominant-baseline="central" stroke="#222" stroke-width="0.25">0</text>
<line x1="40.7" y1="360.2" x2="42.5" y2="360.2" stroke="#8a8a8a" stroke-width="0.8"/>
<text x="37.2" y="360.2" font-size="7.8" text-anchor="end" fill="#222" dominant-baseline="central" stroke="#222" stroke-width="0.25">5000</text>
<line x1="40.7" y1="335.9" x2="42.5" y2="335.9" stroke="#8a8a8a" stroke-width="0.8"/>
<text x="37.2" y="335.9" font-size="7.8" text-anchor="end" fill="#222" dominant-baseline="central" stroke="#222" stroke-width="0.25">10000</text>
<line x1="40.7" y1="311.6" x2="42.5" y2="311.6" stroke="#8a8a8a" stroke-width="0.8"/>
<text x="37.2" y="311.6" font-size="7.8" text-anchor="end" fill="#222" dominant-baseline="central" stroke="#222" stroke-width="0.25">15000</text>
<line x1="40.7" y1="287.3" x2="42.5" y2="287.3" stroke="#8a8a8a" stroke-width="0.8"/>
<text x="37.2" y="287.3" font-size="7.8" text-anchor="end" fill="#222" dominant-baseline="central" stroke="#222" stroke-width="0.25">20000</text>
<line x1="40.7" y1="263" x2="42.5" y2="263" stroke="#8a8a8a" stroke-width="0.8"/>
<text x="37.2" y="263" font-size="7.8" text-anchor="end" fill="#222" dominant-baseline="central" stroke="#222" stroke-width="0.25">25000</text>
<line x1="56.5" y1="288.27" x2="56.5" y2="282.44" stroke="#2a2a2a" stroke-width="1"/>
<line x1="54.7" y1="282.44" x2="58.3" y2="282.44" stroke="#2a2a2a" stroke-width="1"/>
<rect x="51.4" y="288.27" width="10.8" height="96.23" fill="#1c10e0" stroke="#111" stroke-width="0.8"/>
<line x1="68.5" y1="283.9" x2="68.5" y2="276.12" stroke="#2a2a2a" stroke-width="1"/>
<line x1="66.7" y1="276.12" x2="70.3" y2="276.12" stroke="#2a2a2a" stroke-width="1"/>
<rect x="63" y="283.9" width="11.4" height="100.6" fill="#e8141c" stroke="#111" stroke-width="0.8"/>
<line x1="80.5" y1="339.79" x2="80.5" y2="335.9" stroke="#2a2a2a" stroke-width="1"/>
<line x1="78.7" y1="335.9" x2="82.3" y2="335.9" stroke="#2a2a2a" stroke-width="1"/>
<rect x="75.2" y="339.79" width="10.7" height="44.71" fill="#3ebef6" stroke="#111" stroke-width="0.8"/>
<circle cx="81.1" cy="327.7" r="1.25" fill="#111"/>
<line x1="92.5" y1="302.85" x2="92.5" y2="292.16" stroke="#2a2a2a" stroke-width="1"/>
<line x1="90.7" y1="292.16" x2="94.3" y2="292.16" stroke="#2a2a2a" stroke-width="1"/>
<rect x="86.7" y="302.85" width="11.9" height="81.65" fill="#2ec82a" stroke="#111" stroke-width="0.8"/>
<line x1="42.5" y1="384.5" x2="107.5" y2="384.5" stroke="#8a8a8a" stroke-width="1"/>
<text x="73.7" y="392.1" font-size="7.75" text-anchor="middle" fill="#111" dominant-baseline="central" stroke="#111" stroke-width="0.25">CFU-GM</text>
<text x="10.4" y="321.7" font-size="7.85" text-anchor="middle" fill="#222" dominant-baseline="central" stroke="#222" stroke-width="0.25" transform="rotate(-90 10.4 321.7)">Progenitors per femur</text>
<line x1="135.5" y1="266.2" x2="135.5" y2="385.2" stroke="#8a8a8a" stroke-width="1"/>
<line x1="133.5" y1="385.2" x2="135.3" y2="385.2" stroke="#8a8a8a" stroke-width="0.8"/>
<text x="131" y="385.2" font-size="7.8" text-anchor="end" fill="#222" dominant-baseline="central" stroke="#222" stroke-width="0.25">0</text>
<line x1="133.5" y1="371.98" x2="135.3" y2="371.98" stroke="#8a8a8a" stroke-width="0.8"/>
<text x="130" y="371.98" font-size="7.8" text-anchor="end" fill="#222" dominant-baseline="central" stroke="#222" stroke-width="0.25">200</text>
<line x1="133.5" y1="358.76" x2="135.3" y2="358.76" stroke="#8a8a8a" stroke-width="0.8"/>
<text x="130" y="358.76" font-size="7.8" text-anchor="end" fill="#222" dominant-baseline="central" stroke="#222" stroke-width="0.25">400</text>
<line x1="133.5" y1="345.53" x2="135.3" y2="345.53" stroke="#8a8a8a" stroke-width="0.8"/>
<text x="130" y="345.53" font-size="7.8" text-anchor="end" fill="#222" dominant-baseline="central" stroke="#222" stroke-width="0.25">600</text>
<line x1="133.5" y1="332.31" x2="135.3" y2="332.31" stroke="#8a8a8a" stroke-width="0.8"/>
<text x="130" y="332.31" font-size="7.8" text-anchor="end" fill="#222" dominant-baseline="central" stroke="#222" stroke-width="0.25">800</text>
<line x1="133.5" y1="319.09" x2="135.3" y2="319.09" stroke="#8a8a8a" stroke-width="0.8"/>
<text x="130" y="319.09" font-size="7.8" text-anchor="end" fill="#222" dominant-baseline="central" stroke="#222" stroke-width="0.25">1000</text>
<line x1="133.5" y1="305.87" x2="135.3" y2="305.87" stroke="#8a8a8a" stroke-width="0.8"/>
<text x="130" y="305.87" font-size="7.8" text-anchor="end" fill="#222" dominant-baseline="central" stroke="#222" stroke-width="0.25">1200</text>
<line x1="133.5" y1="292.64" x2="135.3" y2="292.64" stroke="#8a8a8a" stroke-width="0.8"/>
<text x="130" y="292.64" font-size="7.8" text-anchor="end" fill="#222" dominant-baseline="central" stroke="#222" stroke-width="0.25">1400</text>
<line x1="133.5" y1="279.42" x2="135.3" y2="279.42" stroke="#8a8a8a" stroke-width="0.8"/>
<text x="130" y="279.42" font-size="7.8" text-anchor="end" fill="#222" dominant-baseline="central" stroke="#222" stroke-width="0.25">1600</text>
<line x1="133.5" y1="266.2" x2="135.3" y2="266.2" stroke="#8a8a8a" stroke-width="0.8"/>
<text x="130" y="266.2" font-size="7.8" text-anchor="end" fill="#222" dominant-baseline="central" stroke="#222" stroke-width="0.25">1800</text>
<line x1="148.5" y1="299.26" x2="148.5" y2="284.05" stroke="#2a2a2a" stroke-width="1"/>
<line x1="146.7" y1="284.05" x2="150.3" y2="284.05" stroke="#2a2a2a" stroke-width="1"/>
<rect x="143.6" y="299.26" width="10.4" height="85.94" fill="#1c10e0" stroke="#111" stroke-width="0.8"/>
<line x1="160.5" y1="293.97" x2="160.5" y2="277.44" stroke="#2a2a2a" stroke-width="1"/>
<line x1="158.7" y1="277.44" x2="162.3" y2="277.44" stroke="#2a2a2a" stroke-width="1"/>
<rect x="154.8" y="293.97" width="10.4" height="91.23" fill="#e8141c" stroke="#111" stroke-width="0.8"/>
<line x1="171.5" y1="344.21" x2="171.5" y2="335.62" stroke="#2a2a2a" stroke-width="1"/>
<line x1="169.7" y1="335.62" x2="173.3" y2="335.62" stroke="#2a2a2a" stroke-width="1"/>
<rect x="166" y="344.21" width="10.3" height="40.99" fill="#3ebef6" stroke="#111" stroke-width="0.8"/>
<circle cx="170.9" cy="329.8" r="1.25" fill="#111"/>
<line x1="182.5" y1="295.95" x2="182.5" y2="276.78" stroke="#2a2a2a" stroke-width="1"/>
<line x1="180.7" y1="276.78" x2="184.3" y2="276.78" stroke="#2a2a2a" stroke-width="1"/>
<rect x="177.1" y="295.95" width="10.4" height="89.25" fill="#2ec82a" stroke="#111" stroke-width="0.8"/>
<line x1="209.5" y1="336.28" x2="209.5" y2="329.01" stroke="#2a2a2a" stroke-width="1"/>
<line x1="207.7" y1="329.01" x2="211.3" y2="329.01" stroke="#2a2a2a" stroke-width="1"/>
<rect x="204.4" y="336.28" width="10.2" height="48.92" fill="#1c10e0" stroke="#111" stroke-width="0.8"/>
<line x1="220.5" y1="329.67" x2="220.5" y2="322.39" stroke="#2a2a2a" stroke-width="1"/>
<line x1="218.7" y1="322.39" x2="222.3" y2="322.39" stroke="#2a2a2a" stroke-width="1"/>
<rect x="215.4" y="329.67" width="10.5" height="55.53" fill="#e8141c" stroke="#111" stroke-width="0.8"/>
<line x1="231.5" y1="363.38" x2="231.5" y2="361.4" stroke="#2a2a2a" stroke-width="1"/>
<line x1="229.7" y1="361.4" x2="233.3" y2="361.4" stroke="#2a2a2a" stroke-width="1"/>
<rect x="226.7" y="363.38" width="10.4" height="21.82" fill="#3ebef6" stroke="#111" stroke-width="0.8"/>
<circle cx="231.9" cy="354.3" r="1.25" fill="#111"/>
<line x1="242.5" y1="334.29" x2="242.5" y2="327.68" stroke="#2a2a2a" stroke-width="1"/>
<line x1="240.7" y1="327.68" x2="244.3" y2="327.68" stroke="#2a2a2a" stroke-width="1"/>
<rect x="237.9" y="334.29" width="10.1" height="50.91" fill="#2ec82a" stroke="#111" stroke-width="0.8"/>
<line x1="135.3" y1="385.5" x2="256.5" y2="385.5" stroke="#8a8a8a" stroke-width="1"/>
<text x="166.9" y="393.7" font-size="7.75" text-anchor="middle" fill="#111" dominant-baseline="central" stroke="#111" stroke-width="0.25">BFU-E</text>
<text x="223.6" y="393.7" font-size="7.75" text-anchor="middle" fill="#111" dominant-baseline="central" stroke="#111" stroke-width="0.25">CFU-GEMM</text>
<line x1="42.5" y1="399.5" x2="42.5" y2="520.5" stroke="#8a8a8a" stroke-width="1"/>
<line x1="40.7" y1="520.5" x2="42.5" y2="520.5" stroke="#8a8a8a" stroke-width="0.8"/>
<text x="39.2" y="520.5" font-size="7.8" text-anchor="end" fill="#222" dominant-baseline="central" stroke="#222" stroke-width="0.25">0</text>
<line x1="40.7" y1="500.33" x2="42.5" y2="500.33" stroke="#8a8a8a" stroke-width="0.8"/>
<text x="37.2" y="500.33" font-size="7.8" text-anchor="end" fill="#222" dominant-baseline="central" stroke="#222" stroke-width="0.25">1000</text>
<line x1="40.7" y1="480.17" x2="42.5" y2="480.17" stroke="#8a8a8a" stroke-width="0.8"/>
<text x="37.2" y="480.17" font-size="7.8" text-anchor="end" fill="#222" dominant-baseline="central" stroke="#222" stroke-width="0.25">2000</text>
<line x1="40.7" y1="460" x2="42.5" y2="460" stroke="#8a8a8a" stroke-width="0.8"/>
<text x="37.2" y="460" font-size="7.8" text-anchor="end" fill="#222" dominant-baseline="central" stroke="#222" stroke-width="0.25">3000</text>
<line x1="40.7" y1="439.83" x2="42.5" y2="439.83" stroke="#8a8a8a" stroke-width="0.8"/>
<text x="37.2" y="439.83" font-size="7.8" text-anchor="end" fill="#222" dominant-baseline="central" stroke="#222" stroke-width="0.25">4000</text>
<line x1="40.7" y1="419.67" x2="42.5" y2="419.67" stroke="#8a8a8a" stroke-width="0.8"/>
<text x="37.2" y="419.67" font-size="7.8" text-anchor="end" fill="#222" dominant-baseline="central" stroke="#222" stroke-width="0.25">5000</text>
<line x1="40.7" y1="399.5" x2="42.5" y2="399.5" stroke="#8a8a8a" stroke-width="0.8"/>
<text x="37.2" y="399.5" font-size="7.8" text-anchor="end" fill="#222" dominant-baseline="central" stroke="#222" stroke-width="0.25">6000</text>
<line x1="54.5" y1="440.64" x2="54.5" y2="423.9" stroke="#2a2a2a" stroke-width="1"/>
<line x1="52.7" y1="423.9" x2="56.3" y2="423.9" stroke="#2a2a2a" stroke-width="1"/>
<rect x="50" y="440.64" width="9.2" height="79.86" fill="#1c10e0" stroke="#111" stroke-width="0.8"/>
<line x1="64.5" y1="441.25" x2="64.5" y2="431.56" stroke="#2a2a2a" stroke-width="1"/>
<line x1="62.7" y1="431.56" x2="66.3" y2="431.56" stroke="#2a2a2a" stroke-width="1"/>
<rect x="60" y="441.25" width="9" height="79.25" fill="#e8141c" stroke="#111" stroke-width="0.8"/>
<line x1="74.5" y1="478.15" x2="74.5" y2="467.06" stroke="#2a2a2a" stroke-width="1"/>
<line x1="72.7" y1="467.06" x2="76.3" y2="467.06" stroke="#2a2a2a" stroke-width="1"/>
<rect x="69.8" y="478.15" width="9" height="42.35" fill="#3ebef6" stroke="#111" stroke-width="0.8"/>
<line x1="84.5" y1="433.28" x2="84.5" y2="426.93" stroke="#2a2a2a" stroke-width="1"/>
<line x1="82.7" y1="426.93" x2="86.3" y2="426.93" stroke="#2a2a2a" stroke-width="1"/>
<rect x="79.6" y="433.28" width="9.4" height="87.22" fill="#2ec82a" stroke="#111" stroke-width="0.8"/>
<line x1="109.5" y1="483.19" x2="109.5" y2="480.97" stroke="#2a2a2a" stroke-width="1"/>
<line x1="107.7" y1="480.97" x2="111.3" y2="480.97" stroke="#2a2a2a" stroke-width="1"/>
<rect x="104.4" y="483.19" width="9.3" height="37.31" fill="#1c10e0" stroke="#111" stroke-width="0.8"/>
<line x1="118.5" y1="481.18" x2="118.5" y2="476.74" stroke="#2a2a2a" stroke-width="1"/>
<line x1="116.7" y1="476.74" x2="120.3" y2="476.74" stroke="#2a2a2a" stroke-width="1"/>
<rect x="114.5" y="481.18" width="8.7" height="39.32" fill="#e8141c" stroke="#111" stroke-width="0.8"/>
<line x1="128.5" y1="504.57" x2="128.5" y2="502.35" stroke="#2a2a2a" stroke-width="1"/>
<line x1="126.7" y1="502.35" x2="130.3" y2="502.35" stroke="#2a2a2a" stroke-width="1"/>
<rect x="124" y="504.57" width="9" height="15.93" fill="#3ebef6" stroke="#111" stroke-width="0.8"/>
<circle cx="126.7" cy="497.5" r="1.25" fill="#111"/>
<circle cx="130.5" cy="497.5" r="1.25" fill="#111"/>
<line x1="138.5" y1="482.59" x2="138.5" y2="472.1" stroke="#2a2a2a" stroke-width="1"/>
<line x1="136.7" y1="472.1" x2="140.3" y2="472.1" stroke="#2a2a2a" stroke-width="1"/>
<rect x="133.8" y="482.59" width="9.1" height="37.91" fill="#2ec82a" stroke="#111" stroke-width="0.8"/>
<line x1="162.5" y1="505.46" x2="162.5" y2="502.45" stroke="#2a2a2a" stroke-width="1"/>
<line x1="160.7" y1="502.45" x2="164.3" y2="502.45" stroke="#2a2a2a" stroke-width="1"/>
<rect x="158.2" y="505.46" width="9.3" height="15.04" fill="#1c10e0" stroke="#111" stroke-width="0.8"/>
<line x1="172.5" y1="506.85" x2="172.5" y2="505.96" stroke="#2a2a2a" stroke-width="1"/>
<line x1="170.7" y1="505.96" x2="174.3" y2="505.96" stroke="#2a2a2a" stroke-width="1"/>
<rect x="168.3" y="506.85" width="9" height="13.65" fill="#e8141c" stroke="#111" stroke-width="0.8"/>
<rect x="178.1" y="514.77" width="9" height="5.73" fill="#3ebef6" stroke="#111" stroke-width="0.8"/>
<circle cx="182.3" cy="509.4" r="1.25" fill="#111"/>
<line x1="192.5" y1="507.45" x2="192.5" y2="504.55" stroke="#2a2a2a" stroke-width="1"/>
<line x1="190.7" y1="504.55" x2="194.3" y2="504.55" stroke="#2a2a2a" stroke-width="1"/>
<rect x="187.9" y="507.45" width="9.2" height="13.05" fill="#2ec82a" stroke="#111" stroke-width="0.8"/>
<line x1="42.5" y1="520.5" x2="205.7" y2="520.5" stroke="#8a8a8a" stroke-width="1"/>
<text x="70" y="526.4" font-size="7.75" text-anchor="middle" fill="#111" dominant-baseline="central" stroke="#111" stroke-width="0.25">CFU-GM</text>
<text x="120.4" y="526.4" font-size="7.75" text-anchor="middle" fill="#111" dominant-baseline="central" stroke="#111" stroke-width="0.25">BFU-E</text>
<text x="176.5" y="526.4" font-size="7.75" text-anchor="middle" fill="#111" dominant-baseline="central" stroke="#111" stroke-width="0.25">CFU-GEMM</text>
<text x="10.3" y="459" font-size="7.85" text-anchor="middle" fill="#222" dominant-baseline="central" stroke="#222" stroke-width="0.25" transform="rotate(-90 10.3 459)">Progenitors per spleen</text>
<rect x="170.1" y="420.15" width="6" height="7.95" fill="#1c10e0" stroke="#222" stroke-width="0.7"/>
<text x="181.8" y="425.1" font-size="7.8" text-anchor="start" fill="#111" dominant-baseline="central" stroke="#111" stroke-width="0.25">PBS</text>
<rect x="170.1" y="432.65" width="6" height="7.95" fill="#e8141c" stroke="#222" stroke-width="0.7"/>
<text x="181.8" y="437.7" font-size="7.8" text-anchor="start" fill="#111" dominant-baseline="central" stroke="#111" stroke-width="0.25">Control IgG</text>
<rect x="170.1" y="445.35" width="6" height="7.95" fill="#3ebef6" stroke="#222" stroke-width="0.7"/>
<text x="181.8" y="450" font-size="7.8" text-anchor="start" fill="#111" dominant-baseline="central" stroke="#111" stroke-width="0.25">Anti-IL-21</text>
<rect x="170.1" y="457.85" width="6" height="7.95" fill="#2ec82a" stroke="#222" stroke-width="0.7"/>
<text x="181.8" y="462.5" font-size="7.8" text-anchor="start" fill="#111" dominant-baseline="central" stroke="#111" stroke-width="0.25">Anti-IL-22</text>
<line x1="42.5" y1="535.8" x2="42.5" y2="639.8" stroke="#8a8a8a" stroke-width="1"/>
<line x1="40.7" y1="639.8" x2="42.5" y2="639.8" stroke="#8a8a8a" stroke-width="0.8"/>
<text x="40" y="639.8" font-size="7.6" text-anchor="end" fill="#222" dominant-baseline="central" stroke="#222" stroke-width="0.25">0</text>
<line x1="40.7" y1="624.94" x2="42.5" y2="624.94" stroke="#8a8a8a" stroke-width="0.8"/>
<text x="39" y="624.94" font-size="7.6" text-anchor="end" fill="#222" dominant-baseline="central" stroke="#222" stroke-width="0.25">10</text>
<line x1="40.7" y1="610.09" x2="42.5" y2="610.09" stroke="#8a8a8a" stroke-width="0.8"/>
<text x="39" y="610.09" font-size="7.6" text-anchor="end" fill="#222" dominant-baseline="central" stroke="#222" stroke-width="0.25">20</text>
<line x1="40.7" y1="595.23" x2="42.5" y2="595.23" stroke="#8a8a8a" stroke-width="0.8"/>
<text x="39" y="595.23" font-size="7.6" text-anchor="end" fill="#222" dominant-baseline="central" stroke="#222" stroke-width="0.25">30</text>
<line x1="40.7" y1="580.37" x2="42.5" y2="580.37" stroke="#8a8a8a" stroke-width="0.8"/>
<text x="39" y="580.37" font-size="7.6" text-anchor="end" fill="#222" dominant-baseline="central" stroke="#222" stroke-width="0.25">40</text>
<line x1="40.7" y1="565.51" x2="42.5" y2="565.51" stroke="#8a8a8a" stroke-width="0.8"/>
<text x="39" y="565.51" font-size="7.6" text-anchor="end" fill="#222" dominant-baseline="central" stroke="#222" stroke-width="0.25">50</text>
<line x1="40.7" y1="550.66" x2="42.5" y2="550.66" stroke="#8a8a8a" stroke-width="0.8"/>
<text x="39" y="550.66" font-size="7.6" text-anchor="end" fill="#222" dominant-baseline="central" stroke="#222" stroke-width="0.25">60</text>
<line x1="40.7" y1="535.8" x2="42.5" y2="535.8" stroke="#8a8a8a" stroke-width="0.8"/>
<text x="39" y="535.8" font-size="7.6" text-anchor="end" fill="#222" dominant-baseline="central" stroke="#222" stroke-width="0.25">70</text>
<rect x="50.6" y="586.31" width="9.8" height="53.49" fill="#1c10e0" stroke="#111" stroke-width="0.8"/>
<rect x="61.2" y="574.43" width="10.1" height="65.37" fill="#e8141c" stroke="#111" stroke-width="0.8"/>
<circle cx="75.3" cy="632.9" r="1.25" fill="#111"/>
<circle cx="79.1" cy="632.9" r="1.25" fill="#111"/>
<rect x="82.2" y="574.43" width="10.2" height="65.37" fill="#2ec82a" stroke="#111" stroke-width="0.8"/>
<rect x="108.2" y="562.54" width="10.1" height="77.26" fill="#1c10e0" stroke="#111" stroke-width="0.8"/>
<rect x="119.1" y="568.49" width="9.3" height="71.31" fill="#e8141c" stroke="#111" stroke-width="0.8"/>
<circle cx="132.8" cy="632.9" r="1.25" fill="#111"/>
<circle cx="136.6" cy="632.9" r="1.25" fill="#111"/>
<rect x="139.8" y="558.09" width="10.5" height="81.71" fill="#2ec82a" stroke="#111" stroke-width="0.8"/>
<rect x="166.4" y="549.17" width="9.7" height="90.63" fill="#1c10e0" stroke="#111" stroke-width="0.8"/>
<rect x="176.9" y="551.4" width="10.2" height="88.4" fill="#e8141c" stroke="#111" stroke-width="0.8"/>
<circle cx="191" cy="632.9" r="1.25" fill="#111"/>
<circle cx="194.8" cy="632.9" r="1.25" fill="#111"/>
<rect x="197.5" y="564.77" width="10.3" height="75.03" fill="#2ec82a" stroke="#111" stroke-width="0.8"/>
<line x1="42.5" y1="639.5" x2="216.5" y2="639.5" stroke="#8a8a8a" stroke-width="1"/>
<text x="73.8" y="645.2" font-size="7.75" text-anchor="middle" fill="#111" dominant-baseline="central" stroke="#111" stroke-width="0.25">CFU-GM</text>
<text x="124" y="645.2" font-size="7.75" text-anchor="middle" fill="#111" dominant-baseline="central" stroke="#111" stroke-width="0.25">BFU-E</text>
<text x="185.4" y="645.2" font-size="7.75" text-anchor="middle" fill="#111" dominant-baseline="central" stroke="#111" stroke-width="0.25">CFU-GEMM</text>
<text x="10.2" y="580.4" font-size="7.85" text-anchor="middle" fill="#222" dominant-baseline="central" stroke="#222" stroke-width="0.25" transform="rotate(-90 10.2 580.4)">Percent bone marrow</text>
<text x="20.6" y="580" font-size="7.85" text-anchor="middle" fill="#222" dominant-baseline="central" stroke="#222" stroke-width="0.25" transform="rotate(-90 20.6 580)">progenitors in S-phase</text>
<line x1="325.5" y1="262.5" x2="325.5" y2="385" stroke="#8a8a8a" stroke-width="1"/>
<line x1="323.2" y1="385" x2="325" y2="385" stroke="#8a8a8a" stroke-width="0.8"/>
<text x="323.5" y="385" font-size="7.8" text-anchor="end" fill="#222" dominant-baseline="central" stroke="#222" stroke-width="0.25">0</text>
<line x1="323.2" y1="367.5" x2="325" y2="367.5" stroke="#8a8a8a" stroke-width="0.8"/>
<text x="323.5" y="367.5" font-size="7.8" text-anchor="end" fill="#222" dominant-baseline="central" stroke="#222" stroke-width="0.25">10000</text>
<line x1="323.2" y1="350" x2="325" y2="350" stroke="#8a8a8a" stroke-width="0.8"/>
<text x="323.5" y="350" font-size="7.8" text-anchor="end" fill="#222" dominant-baseline="central" stroke="#222" stroke-width="0.25">20000</text>
<line x1="323.2" y1="332.5" x2="325" y2="332.5" stroke="#8a8a8a" stroke-width="0.8"/>
<text x="323.5" y="332.5" font-size="7.8" text-anchor="end" fill="#222" dominant-baseline="central" stroke="#222" stroke-width="0.25">30000</text>
<line x1="323.2" y1="315" x2="325" y2="315" stroke="#8a8a8a" stroke-width="0.8"/>
<text x="323.5" y="315" font-size="7.8" text-anchor="end" fill="#222" dominant-baseline="central" stroke="#222" stroke-width="0.25">40000</text>
<line x1="323.2" y1="297.5" x2="325" y2="297.5" stroke="#8a8a8a" stroke-width="0.8"/>
<text x="323.5" y="297.5" font-size="7.8" text-anchor="end" fill="#222" dominant-baseline="central" stroke="#222" stroke-width="0.25">50000</text>
<line x1="323.2" y1="280" x2="325" y2="280" stroke="#8a8a8a" stroke-width="0.8"/>
<text x="323.5" y="280" font-size="7.8" text-anchor="end" fill="#222" dominant-baseline="central" stroke="#222" stroke-width="0.25">60000</text>
<line x1="323.2" y1="262.5" x2="325" y2="262.5" stroke="#8a8a8a" stroke-width="0.8"/>
<text x="323.5" y="262.5" font-size="7.8" text-anchor="end" fill="#222" dominant-baseline="central" stroke="#222" stroke-width="0.25">70000</text>
<line x1="338.5" y1="289.8" x2="338.5" y2="278.43" stroke="#2a2a2a" stroke-width="1"/>
<line x1="336.7" y1="278.43" x2="340.3" y2="278.43" stroke="#2a2a2a" stroke-width="1"/>
<rect x="333.7" y="289.8" width="10.5" height="95.2" fill="#1a0c9a" stroke="#111" stroke-width="0.8"/>
<line x1="350.5" y1="336" x2="350.5" y2="333.38" stroke="#2a2a2a" stroke-width="1"/>
<line x1="348.7" y1="333.38" x2="352.3" y2="333.38" stroke="#2a2a2a" stroke-width="1"/>
<rect x="345" y="336" width="10.6" height="49" fill="#e81820" stroke="#111" stroke-width="0.8"/>
<circle cx="348.4" cy="327.5" r="1.25" fill="#111"/>
<circle cx="352.2" cy="327.5" r="1.25" fill="#111"/>
<line x1="361.5" y1="290.85" x2="361.5" y2="284.02" stroke="#2a2a2a" stroke-width="1"/>
<line x1="359.7" y1="284.02" x2="363.3" y2="284.02" stroke="#2a2a2a" stroke-width="1"/>
<rect x="356.4" y="290.85" width="10.5" height="94.15" fill="#5b8cf5" stroke="#111" stroke-width="0.8"/>
<line x1="388.5" y1="367.15" x2="388.5" y2="365.05" stroke="#2a2a2a" stroke-width="1"/>
<line x1="386.7" y1="365.05" x2="390.3" y2="365.05" stroke="#2a2a2a" stroke-width="1"/>
<rect x="383.5" y="367.15" width="10.5" height="17.85" fill="#1a0c9a" stroke="#111" stroke-width="0.8"/>
<rect x="394.8" y="375.55" width="10.4" height="9.45" fill="#e81820" stroke="#111" stroke-width="0.8"/>
<circle cx="400.1" cy="369.8" r="1.25" fill="#111"/>
<line x1="411.5" y1="366.1" x2="411.5" y2="364.18" stroke="#2a2a2a" stroke-width="1"/>
<line x1="409.7" y1="364.18" x2="413.3" y2="364.18" stroke="#2a2a2a" stroke-width="1"/>
<rect x="406" y="366.1" width="10.1" height="18.9" fill="#5b8cf5" stroke="#111" stroke-width="0.8"/>
<line x1="438.5" y1="370.21" x2="438.5" y2="368.29" stroke="#2a2a2a" stroke-width="1"/>
<line x1="436.7" y1="368.29" x2="440.3" y2="368.29" stroke="#2a2a2a" stroke-width="1"/>
<rect x="432.9" y="370.21" width="10.7" height="14.79" fill="#1a0c9a" stroke="#111" stroke-width="0.8"/>
<rect x="444.4" y="377.12" width="10.2" height="7.88" fill="#e81820" stroke="#111" stroke-width="0.8"/>
<circle cx="449.5" cy="372.9" r="1.25" fill="#111"/>
<line x1="460.5" y1="369.07" x2="460.5" y2="368.29" stroke="#2a2a2a" stroke-width="1"/>
<line x1="458.7" y1="368.29" x2="462.3" y2="368.29" stroke="#2a2a2a" stroke-width="1"/>
<rect x="455.4" y="369.07" width="10.5" height="15.93" fill="#5b8cf5" stroke="#111" stroke-width="0.8"/>
<line x1="325" y1="385.5" x2="474.4" y2="385.5" stroke="#8a8a8a" stroke-width="1"/>
<text x="346.5" y="390.6" font-size="7.75" text-anchor="middle" fill="#111" dominant-baseline="central" stroke="#111" stroke-width="0.25">CFU-GM</text>
<text x="400.6" y="390.6" font-size="7.75" text-anchor="middle" fill="#111" dominant-baseline="central" stroke="#111" stroke-width="0.25">BFU-E</text>
<text x="450.4" y="390.6" font-size="7.75" text-anchor="middle" fill="#111" dominant-baseline="central" stroke="#111" stroke-width="0.25">CFU-GEMM</text>
<text x="290.8" y="326" font-size="7.85" text-anchor="middle" fill="#222" dominant-baseline="central" stroke="#222" stroke-width="0.25" transform="rotate(-90 290.8 326)">Progenitors per femur</text>
<rect x="405.1" y="270.55" width="7.6" height="7.65" fill="#1a0c9a" stroke="#222" stroke-width="0.7"/>
<text x="415.6" y="274.9" font-size="7.85" text-anchor="start" fill="#111" dominant-baseline="central" stroke="#111" stroke-width="0.25">Wild type</text>
<rect x="405.1" y="287.95" width="7.6" height="7.65" fill="#e81820" stroke="#222" stroke-width="0.7"/>
<text x="415.6" y="291.6" font-size="7.85" text-anchor="start" fill="#111" dominant-baseline="central" stroke="#111" stroke-width="0.25"><tspan font-style="italic" font-size="7.6">Stat3</tspan><tspan font-size="5.6" dy="-1.9">CD4-/-</tspan><tspan dy="1.9"> PBS</tspan></text>
<rect x="405.1" y="303.45" width="7.6" height="7.65" fill="#5b8cf5" stroke="#222" stroke-width="0.7"/>
<text x="415.6" y="307.1" font-size="7.85" text-anchor="start" fill="#111" dominant-baseline="central" stroke="#111" stroke-width="0.25"><tspan font-style="italic" font-size="7.6">Stat3</tspan><tspan font-size="5.6" dy="-1.9">CD4-/-</tspan><tspan dy="1.9"> IL-21</tspan></text>
<line x1="326.5" y1="403.3" x2="326.5" y2="521" stroke="#8a8a8a" stroke-width="1"/>
<line x1="324.5" y1="521" x2="326.3" y2="521" stroke="#8a8a8a" stroke-width="0.8"/>
<text x="323.5" y="521" font-size="7.8" text-anchor="end" fill="#222" dominant-baseline="central" stroke="#222" stroke-width="0.25">0</text>
<line x1="324.5" y1="501.38" x2="326.3" y2="501.38" stroke="#8a8a8a" stroke-width="0.8"/>
<text x="323.5" y="501.38" font-size="7.8" text-anchor="end" fill="#222" dominant-baseline="central" stroke="#222" stroke-width="0.25">2000</text>
<line x1="324.5" y1="481.77" x2="326.3" y2="481.77" stroke="#8a8a8a" stroke-width="0.8"/>
<text x="323.5" y="481.77" font-size="7.8" text-anchor="end" fill="#222" dominant-baseline="central" stroke="#222" stroke-width="0.25">4000</text>
<line x1="324.5" y1="462.15" x2="326.3" y2="462.15" stroke="#8a8a8a" stroke-width="0.8"/>
<text x="323.5" y="462.15" font-size="7.8" text-anchor="end" fill="#222" dominant-baseline="central" stroke="#222" stroke-width="0.25">6000</text>
<line x1="324.5" y1="442.53" x2="326.3" y2="442.53" stroke="#8a8a8a" stroke-width="0.8"/>
<text x="323.5" y="442.53" font-size="7.8" text-anchor="end" fill="#222" dominant-baseline="central" stroke="#222" stroke-width="0.25">8000</text>
<line x1="324.5" y1="422.92" x2="326.3" y2="422.92" stroke="#8a8a8a" stroke-width="0.8"/>
<text x="323.5" y="422.92" font-size="7.8" text-anchor="end" fill="#222" dominant-baseline="central" stroke="#222" stroke-width="0.25">10000</text>
<line x1="324.5" y1="403.3" x2="326.3" y2="403.3" stroke="#8a8a8a" stroke-width="0.8"/>
<text x="323.5" y="403.3" font-size="7.8" text-anchor="end" fill="#222" dominant-baseline="central" stroke="#222" stroke-width="0.25">12000</text>
<line x1="339.5" y1="446.46" x2="339.5" y2="438.61" stroke="#2a2a2a" stroke-width="1"/>
<line x1="337.7" y1="438.61" x2="341.3" y2="438.61" stroke="#2a2a2a" stroke-width="1"/>
<rect x="334.2" y="446.46" width="9.6" height="74.54" fill="#1a0c9a" stroke="#111" stroke-width="0.8"/>
<line x1="349.5" y1="487.16" x2="349.5" y2="485.69" stroke="#2a2a2a" stroke-width="1"/>
<line x1="347.7" y1="485.69" x2="351.3" y2="485.69" stroke="#2a2a2a" stroke-width="1"/>
<rect x="344.6" y="487.16" width="10.2" height="33.84" fill="#e81820" stroke="#111" stroke-width="0.8"/>
<circle cx="347.8" cy="480" r="1.25" fill="#111"/>
<circle cx="351.6" cy="480" r="1.25" fill="#111"/>
<line x1="360.5" y1="447.44" x2="360.5" y2="441.55" stroke="#2a2a2a" stroke-width="1"/>
<line x1="358.7" y1="441.55" x2="362.3" y2="441.55" stroke="#2a2a2a" stroke-width="1"/>
<rect x="355.6" y="447.44" width="9.6" height="73.56" fill="#5b8cf5" stroke="#111" stroke-width="0.8"/>
<line x1="386.5" y1="436.65" x2="386.5" y2="420.96" stroke="#2a2a2a" stroke-width="1"/>
<line x1="384.7" y1="420.96" x2="388.3" y2="420.96" stroke="#2a2a2a" stroke-width="1"/>
<rect x="381.2" y="436.65" width="9.8" height="84.35" fill="#1a0c9a" stroke="#111" stroke-width="0.8"/>
<line x1="396.5" y1="486.18" x2="396.5" y2="481.28" stroke="#2a2a2a" stroke-width="1"/>
<line x1="394.7" y1="481.28" x2="398.3" y2="481.28" stroke="#2a2a2a" stroke-width="1"/>
<rect x="391.8" y="486.18" width="9.9" height="34.82" fill="#e81820" stroke="#111" stroke-width="0.8"/>
<circle cx="396.7" cy="476.6" r="1.25" fill="#111"/>
<line x1="407.5" y1="439.1" x2="407.5" y2="429.78" stroke="#2a2a2a" stroke-width="1"/>
<line x1="405.7" y1="429.78" x2="409.3" y2="429.78" stroke="#2a2a2a" stroke-width="1"/>
<rect x="402.5" y="439.1" width="9.9" height="81.9" fill="#5b8cf5" stroke="#111" stroke-width="0.8"/>
<line x1="433.5" y1="478.53" x2="433.5" y2="471.76" stroke="#2a2a2a" stroke-width="1"/>
<line x1="431.7" y1="471.76" x2="435.3" y2="471.76" stroke="#2a2a2a" stroke-width="1"/>
<rect x="428.2" y="478.53" width="9.9" height="42.47" fill="#1a0c9a" stroke="#111" stroke-width="0.8"/>
<line x1="443.5" y1="505.31" x2="443.5" y2="504.33" stroke="#2a2a2a" stroke-width="1"/>
<line x1="441.7" y1="504.33" x2="445.3" y2="504.33" stroke="#2a2a2a" stroke-width="1"/>
<rect x="438.9" y="505.31" width="9.5" height="15.69" fill="#e81820" stroke="#111" stroke-width="0.8"/>
<circle cx="443.6" cy="500.5" r="1.25" fill="#111"/>
<line x1="454.5" y1="490.1" x2="454.5" y2="485.69" stroke="#2a2a2a" stroke-width="1"/>
<line x1="452.7" y1="485.69" x2="456.3" y2="485.69" stroke="#2a2a2a" stroke-width="1"/>
<rect x="449.2" y="490.1" width="9.6" height="30.9" fill="#5b8cf5" stroke="#111" stroke-width="0.8"/>
<line x1="326.3" y1="521.5" x2="469.5" y2="521.5" stroke="#8a8a8a" stroke-width="1"/>
<text x="348.8" y="526" font-size="7.75" text-anchor="middle" fill="#111" dominant-baseline="central" stroke="#111" stroke-width="0.25">CFU-GM</text>
<text x="398.3" y="526" font-size="7.75" text-anchor="middle" fill="#111" dominant-baseline="central" stroke="#111" stroke-width="0.25">BFU-E</text>
<text x="447.7" y="526" font-size="7.75" text-anchor="middle" fill="#111" dominant-baseline="central" stroke="#111" stroke-width="0.25">CFU-GEMM</text>
<text x="290.7" y="457.8" font-size="7.85" text-anchor="middle" fill="#222" dominant-baseline="central" stroke="#222" stroke-width="0.25" transform="rotate(-90 290.7 457.8)">Progenitors per spleen</text>
<line x1="327.5" y1="536.6" x2="327.5" y2="639.8" stroke="#8a8a8a" stroke-width="1"/>
<line x1="325.4" y1="639.8" x2="327.2" y2="639.8" stroke="#8a8a8a" stroke-width="0.8"/>
<text x="321.4" y="639.8" font-size="7.6" text-anchor="end" fill="#222" dominant-baseline="central" stroke="#222" stroke-width="0.25">0</text>
<line x1="325.4" y1="625.06" x2="327.2" y2="625.06" stroke="#8a8a8a" stroke-width="0.8"/>
<text x="321.4" y="625.06" font-size="7.6" text-anchor="end" fill="#222" dominant-baseline="central" stroke="#222" stroke-width="0.25">10</text>
<line x1="325.4" y1="610.31" x2="327.2" y2="610.31" stroke="#8a8a8a" stroke-width="0.8"/>
<text x="321.4" y="610.31" font-size="7.6" text-anchor="end" fill="#222" dominant-baseline="central" stroke="#222" stroke-width="0.25">20</text>
<line x1="325.4" y1="595.57" x2="327.2" y2="595.57" stroke="#8a8a8a" stroke-width="0.8"/>
<text x="321.4" y="595.57" font-size="7.6" text-anchor="end" fill="#222" dominant-baseline="central" stroke="#222" stroke-width="0.25">30</text>
<line x1="325.4" y1="580.83" x2="327.2" y2="580.83" stroke="#8a8a8a" stroke-width="0.8"/>
<text x="321.4" y="580.83" font-size="7.6" text-anchor="end" fill="#222" dominant-baseline="central" stroke="#222" stroke-width="0.25">40</text>
<line x1="325.4" y1="566.09" x2="327.2" y2="566.09" stroke="#8a8a8a" stroke-width="0.8"/>
<text x="321.4" y="566.09" font-size="7.6" text-anchor="end" fill="#222" dominant-baseline="central" stroke="#222" stroke-width="0.25">50</text>
<line x1="325.4" y1="551.34" x2="327.2" y2="551.34" stroke="#8a8a8a" stroke-width="0.8"/>
<text x="321.4" y="551.34" font-size="7.6" text-anchor="end" fill="#222" dominant-baseline="central" stroke="#222" stroke-width="0.25">60</text>
<line x1="325.4" y1="536.6" x2="327.2" y2="536.6" stroke="#8a8a8a" stroke-width="0.8"/>
<text x="321.4" y="536.6" font-size="7.6" text-anchor="end" fill="#222" dominant-baseline="central" stroke="#222" stroke-width="0.25">70</text>
<rect x="336.9" y="563.14" width="11.7" height="76.66" fill="#1a0c9a" stroke="#111" stroke-width="0.8"/>
<rect x="349.4" y="637.15" width="11" height="2.65" fill="#e81820" stroke="#111" stroke-width="0.8"/>
<circle cx="353.2" cy="630.3" r="1.25" fill="#111"/>
<circle cx="357" cy="630.3" r="1.25" fill="#111"/>
<rect x="361.2" y="560.19" width="10.9" height="79.61" fill="#5b8cf5" stroke="#111" stroke-width="0.8"/>
<rect x="387.6" y="582.75" width="11" height="57.05" fill="#1a0c9a" stroke="#111" stroke-width="0.8"/>
<rect x="399.4" y="636.11" width="11.3" height="3.69" fill="#e81820" stroke="#111" stroke-width="0.8"/>
<circle cx="403.5" cy="631.5" r="1.25" fill="#111"/>
<circle cx="407.3" cy="631.5" r="1.25" fill="#111"/>
<rect x="411.5" y="558.71" width="11" height="81.09" fill="#5b8cf5" stroke="#111" stroke-width="0.8"/>
<rect x="434.4" y="569.03" width="11.9" height="70.77" fill="#1a0c9a" stroke="#111" stroke-width="0.8"/>
<circle cx="451" cy="633.2" r="1.25" fill="#111"/>
<circle cx="454.8" cy="633.2" r="1.25" fill="#111"/>
<rect x="458.1" y="549.87" width="12.4" height="89.93" fill="#5b8cf5" stroke="#111" stroke-width="0.8"/>
<line x1="327.2" y1="639.5" x2="488.5" y2="639.5" stroke="#8a8a8a" stroke-width="1"/>
<text x="358.5" y="646.1" font-size="7.75" text-anchor="middle" fill="#111" dominant-baseline="central" stroke="#111" stroke-width="0.25">CFU-GM</text>
<text x="404.8" y="646.1" font-size="7.75" text-anchor="middle" fill="#111" dominant-baseline="central" stroke="#111" stroke-width="0.25">BFU-E</text>
<text x="454.6" y="646.1" font-size="7.75" text-anchor="middle" fill="#111" dominant-baseline="central" stroke="#111" stroke-width="0.25">CFU-GEMM</text>
<text x="289.8" y="584.2" font-size="7.85" text-anchor="middle" fill="#222" dominant-baseline="central" stroke="#222" stroke-width="0.25" transform="rotate(-90 289.8 584.2)">Percent bone marrow</text>
<text x="300.5" y="583.8" font-size="7.85" text-anchor="middle" fill="#222" dominant-baseline="central" stroke="#222" stroke-width="0.25" transform="rotate(-90 300.5 583.8)">progenitors in S-phase</text>
</svg>
</body></html>
